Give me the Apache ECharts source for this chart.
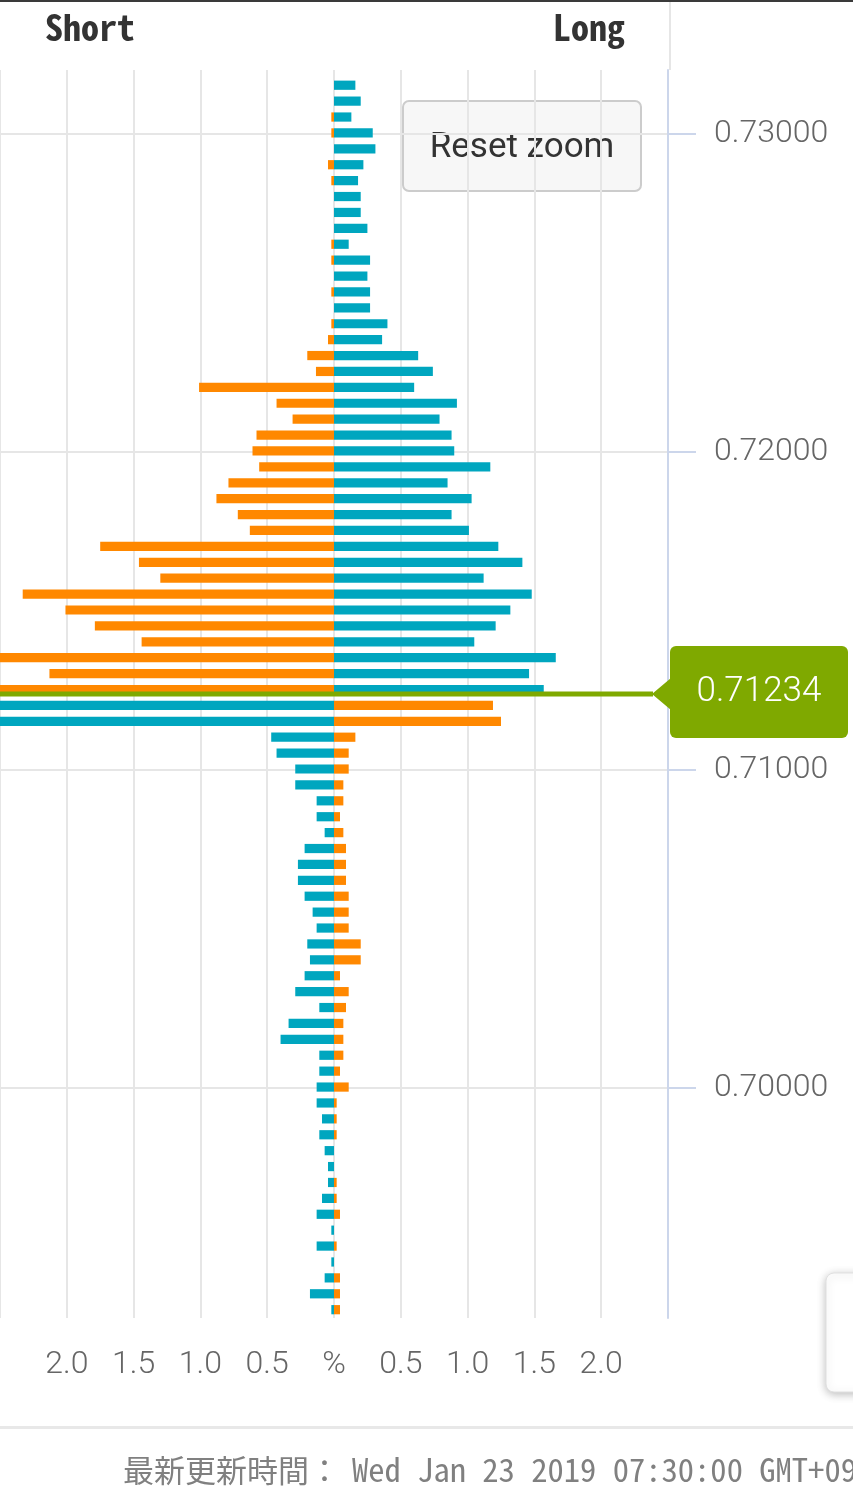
<!DOCTYPE html>
<html><head><meta charset="utf-8">
<script src="https://cdn.jsdelivr.net/npm/echarts@6/dist/echarts.min.js"></script>
<style>html,body{margin:0;padding:0;background:#fff;overflow:hidden}#c{width:853px;height:1489px;}</style>
</head><body><div id="c"></div>
<script>
// Price levels (top to bottom)
const prices = [
  0.7315,0.7310,0.7305,0.7300,0.7295,0.7290,0.7285,0.7280,0.7275,0.7270,
  0.7265,0.7260,0.7255,0.7250,0.7245,0.7240,0.7235,0.7230,0.7225,0.7220,
  0.7215,0.7210,0.7205,0.7200,0.7195,0.7190,0.7185,0.7180,0.7175,0.7170,
  0.7165,0.7160,0.7155,0.7150,0.7145,0.7140,0.7135,0.7130,0.7125,0.7120,
  0.7115,0.7110,0.7105,0.7100,0.7095,0.7090,0.7085,0.7080,0.7075,0.7070,
  0.7065,0.7060,0.7055,0.7050,0.7045,0.7040,0.7035,0.7030,0.7025,0.7020,
  0.7015,0.7010,0.7005,0.7000,0.6995,0.6990,0.6985,0.6980,0.6975,0.6970,
  0.6965,0.6960,0.6955,0.6950,0.6945,0.6940,0.6935,0.6930
];
// Short positions (%), drawn to the left
const shortPct = [
  0,0,0.02,0.02,0,0.045,0.02,0,0,0,
  0.02,0.02,0,0.02,0,0.02,0.045,0.20,0.135,1.01,
  0.43,0.31,0.58,0.61,0.56,0.79,0.88,0.72,0.63,1.75,
  1.46,1.30,2.33,2.01,1.79,1.44,2.62,2.13,2.70,2.85,
  2.75,0.47,0.43,0.29,0.29,0.13,0.13,0.07,0.22,0.27,
  0.27,0.22,0.16,0.13,0.20,0.18,0.22,0.29,0.11,0.34,
  0.40,0.11,0.11,0.13,0.13,0.09,0.11,0.07,0.045,0.045,
  0.09,0.13,0.02,0.13,0.02,0.07,0.18,0.02
];
// Long positions (%), drawn to the right
const longPct = [
  0.16,0.20,0.13,0.29,0.31,0.22,0.18,0.20,0.20,0.25,
  0.11,0.27,0.25,0.27,0.27,0.40,0.36,0.63,0.74,0.60,
  0.92,0.79,0.88,0.90,1.17,0.85,1.03,0.88,1.01,1.23,
  1.41,1.12,1.48,1.32,1.21,1.05,1.66,1.46,1.57,1.19,
  1.25,0.16,0.11,0.11,0.07,0.07,0.045,0.07,0.09,0.09,
  0.09,0.11,0.11,0.11,0.20,0.20,0.045,0.11,0.09,0.07,
  0.07,0.07,0.045,0.11,0.02,0.02,0.02,0,0,0.02,
  0.02,0.045,0,0.02,0,0.045,0.045,0.045
];
const currentPrice = 0.71234;
const priceStep = 0.0005;
const priceTicks = [0.70, 0.71, 0.72, 0.73];
const yRange = [0.69277, 0.73201];
const xRange = [-2.5, 2.5];
const footerLabel = '最新更新時間：';
const footerTime = 'Wed Jan 23 2019 07:30:00 GMT+0900';

const ORANGE = '#ff8800';
const TEAL = '#00a6bf';
const GREEN = '#7fa900';
const LABEL_FONT = 'Roboto';
const MONO = "'Noto Sans Mono CJK JP', 'Noto Sans CJK JP', monospace";

const chart = echarts.init(document.getElementById('c'), null, {renderer: 'canvas'});

const option = {
  animation: false,
  backgroundColor: '#ffffff',
  grid: {left: -2, right: 185, top: 70, bottom: 171},
  xAxis: {
    type: 'value', min: xRange[0], max: xRange[1], interval: 0.5,
    axisLine: {show: false, onZero: false}, axisTick: {show: false},
    splitLine: {show: true, lineStyle: {color: '#e6e6e6', width: 2}},
    axisLabel: {
      showMinLabel: false, showMaxLabel: false,
      formatter: v => v === 0 ? '%' : Math.abs(v).toFixed(1),
      color: '#666666', fontSize: 32, fontFamily: LABEL_FONT, fontWeight: 300, margin: 31
    }
  },
  yAxis: {
    type: 'value', position: 'right', min: yRange[0], max: yRange[1],
    axisLine: {show: true, onZero: false, lineStyle: {color: '#ccd6eb', width: 2}},
    axisTick: {show: true, length: 28, lineStyle: {color: '#ccd6eb', width: 2}, customValues: priceTicks},
    axisLabel: {
      customValues: priceTicks,
      formatter: v => Number(v).toFixed(5),
      color: '#666666', fontSize: 32, fontFamily: LABEL_FONT, fontWeight: 300, margin: 46
    },
    splitLine: {show: true, lineStyle: {color: '#e6e6e6', width: 2}}
  },
  series: [
    {
      type: 'custom',
      name: 'positions',
      data: prices.map((p, i) => [shortPct[i], longPct[i], p]),
      encode: {x: [0, 1], y: 2},
      renderItem: function (params, api) {
        const s = api.value(0), l = api.value(1), p = api.value(2);
        const base = api.coord([0, p]);
        const h = api.size([0, priceStep])[1] * 0.58;
        const cs = params.coordSys;
        const clip = {x: cs.x, y: cs.y, width: cs.width, height: cs.height};
        const left = api.coord([-s, p])[0];
        const right = api.coord([l, p])[0];
        const shortColor = p > currentPrice ? ORANGE : TEAL;
        const longColor = p < currentPrice ? ORANGE : TEAL;
        const children = [];
        if (s > 0) {
          const r = echarts.graphic.clipRectByRect({x: left, y: base[1] - h / 2 - 1, width: base[0] - left, height: h}, clip);
          if (r) children.push({type: 'rect', shape: r, style: {fill: shortColor}});
        }
        if (l > 0) {
          const r = echarts.graphic.clipRectByRect({x: base[0], y: base[1] - h / 2 - 1, width: right - base[0], height: h}, clip);
          if (r) children.push({type: 'rect', shape: r, style: {fill: longColor}});
        }
        return {type: 'group', children};
      }
    },
    {
      type: 'custom',
      name: 'current',
      z: 5,
      data: [[0, currentPrice]],
      encode: {x: 0, y: 1},
      renderItem: function (params, api) {
        const cs = params.coordSys;
        const y = api.coord([0, api.value(1)])[1] - 1.5;
        const xr = cs.x + cs.width;
        return {type: 'group', children: [
          {type: 'rect', shape: {x: cs.x, y: y - 2.5, width: cs.width - 15, height: 5}, style: {fill: GREEN}},
          {type: 'polygon', shape: {points: [[xr - 16, y], [xr + 3, y - 16], [xr + 3, y + 16]]}, style: {fill: GREEN}},
          {type: 'rect', shape: {x: xr + 2, y: y - 48, width: 178, height: 92, r: 6}, style: {fill: GREEN}},
          {type: 'text', x: xr + 2 + 89, y: y - 2, style: {text: currentPrice.toFixed(5), fill: '#ffffff', fontSize: 35, fontFamily: LABEL_FONT, fontWeight: 300, align: 'center', verticalAlign: 'middle'}}
        ]};
      }
    }
  ],
  graphic: [
    {type: 'rect', shape: {x: 0, y: 0, width: 853, height: 2}, style: {fill: '#3a3a3a'}, silent: true},
    {type: 'rect', shape: {x: 669, y: 2, width: 2, height: 68}, style: {fill: '#e6e6e6'}, silent: true},
    {type: 'text', x: 45, y: 27, style: {text: 'Short', fill: '#333333', fontSize: 36, fontWeight: 'bold', fontFamily: MONO, verticalAlign: 'middle'}},
    {type: 'text', x: 553, y: 27, style: {text: 'Long', fill: '#333333', fontSize: 36, fontWeight: 'bold', fontFamily: MONO, verticalAlign: 'middle'}},
    {type: 'group', children: [
      {type: 'rect', shape: {x: 403, y: 101, width: 238, height: 90, r: 6}, style: {fill: '#f7f7f7', stroke: '#cccccc', lineWidth: 2}},
      {type: 'text', x: 522, y: 148, style: {text: 'Reset zoom', fill: '#333333', fontSize: 35, fontFamily: "Roboto, 'Noto Sans', sans-serif", align: 'center', verticalAlign: 'middle'}}
    ]},
    {type: 'rect', shape: {x: 826, y: 1273, width: 60, height: 119, r: 8}, style: {fill: '#ffffff', stroke: '#e0e0e0', lineWidth: 1, shadowBlur: 8, shadowColor: 'rgba(0,0,0,0.25)', shadowOffsetX: 0, shadowOffsetY: 2}},
    {type: 'rect', shape: {x: 0, y: 1426, width: 853, height: 3}, style: {fill: '#e8e8e8'}, silent: true},
    {type: 'text', x: 123, y: 1470, style: {text: footerLabel, fill: '#808080', fontSize: 31, fontFamily: MONO, verticalAlign: 'middle'}},
    {type: 'text', x: 352, y: 1470, style: {text: footerTime, fill: '#808080', fontSize: 32.6, fontFamily: MONO, verticalAlign: 'middle'}}
  ]
};
chart.setOption(option);
</script>
</body></html>
